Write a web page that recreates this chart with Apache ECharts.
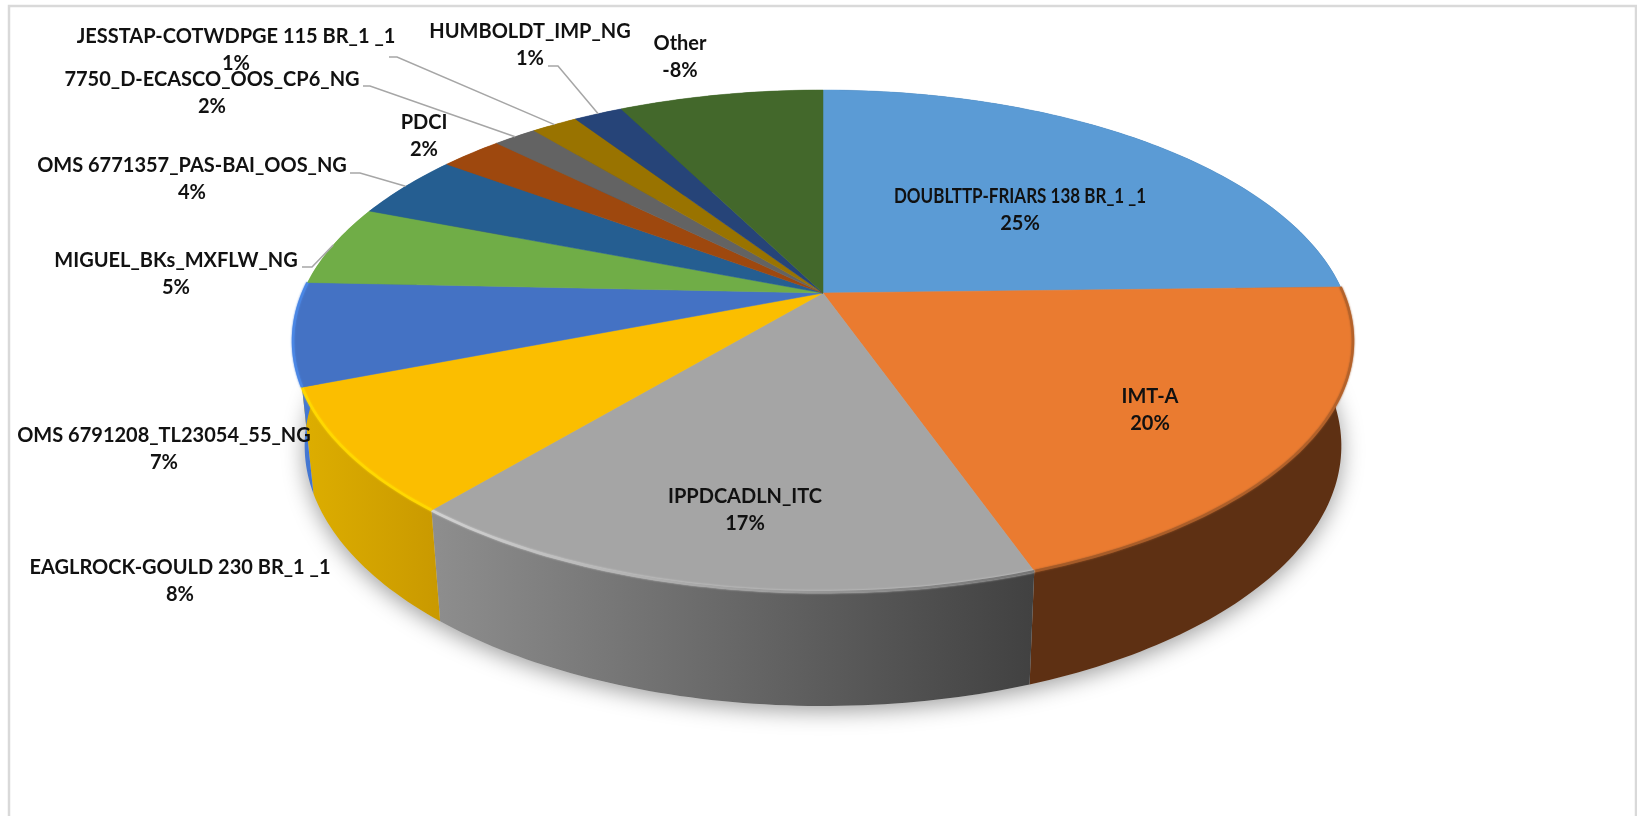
<!DOCTYPE html>
<html lang="en">
<head>
  <meta charset="UTF-8">
  <title>chart</title>
  <style>html,body{margin:0;padding:0;background:#fff}</style>
</head>
<body>
<div id="main" style="width:1637px;height:816px;"></div>
<script src="https://cdn.jsdelivr.net/npm/echarts@6/dist/echarts.min.js"></script>
<script>
// slice sizes, labels as printed on it
var categories = ['DOUBLTTP-FRIARS 138 BR_1 _1', 'IMT-A', 'IPPDCADLN_ITC', 'EAGLROCK-GOULD 230 BR_1 _1',
  'OMS 6791208_TL23054_55_NG', 'MIGUEL_BKs_MXFLW_NG', 'OMS 6771357_PAS-BAI_OOS_NG', 'PDCI',
  '7750_D-ECASCO_OOS_CP6_NG', 'JESSTAP-COTWDPGE 115 BR_1 _1', 'HUMBOLDT_IMP_NG', 'Other'];
var sliceValues = [24.6, 20.0, 16.5, 8.0, 6.6, 5.2, 4.2, 2.3, 1.6, 1.7, 1.8, 7.5];
var percentLabels = ['25%', '20%', '17%', '8%', '7%', '5%', '4%', '2%', '2%', '1%', '1%', '-8%'];

var topColors = ['#5B9BD5', '#EA7B30', '#A5A5A5', '#FBBE00', '#4472C4', '#70AD47', '#255E91', '#9E480E', '#636363', '#997300', '#264478', '#43682B'];
var wallColors = [['#2f5f8a', '#2f5f8a'], ['#5E3013', '#5E3013'], ['#8E8E8E', '#414141'], ['#DDAE00', '#C99900'], ['#4A80DD', '#3F6FC8']];
var rimColors = [null, ['#a35a28', '#b5622a'], ['#D2D2D2', '#757575'], ['#FFD800', '#FFD800'], ['#4A86E4', '#4A86E4']];

// label box centres, first line; second line sits 27px lower
var labelX = [1020, 1150, 745, 180, 164, 176, 192, 424, 212, 236, 530, 680];
var labelY = [197, 397, 497, 568, 436, 261, 166, 123, 80, 37, 32, 44];
// elbow of leader line per slice (start x, knee x, y)
var leaders = {5: [302, 312, 267], 6: [350, 360, 173], 8: [363, 370, 86], 9: [389, 397, 57], 10: [548, 558, 66]};

// ellipse of the tilted top face, apex is where the slices meet
var cx = 823, cy = 341, rx = 530, ry = 251, apexY = 293;
var tilt = (apexY - cy) / ry;
var total = sliceValues.reduce(function (a, b) { return a + b; }, 0);

// share of the pie (0..1, clockwise from 12 o'clock) -> point on unit ellipse
function rim(share) {
  var a = share * 2 * Math.PI;
  var X = Math.sin(a), Y = -Math.cos(a);
  var d = 1 + tilt * Y;
  return [X * Math.sqrt(1 - tilt * tilt) / d, (Y + tilt) / d];
}
function topPoint(share) {
  var p = rim(share);
  return [cx + p[0] * rx, cy + p[1] * ry];
}
function bottomPoint(share) {
  var p = rim(share);
  return [cx + p[0] * rx * 0.978, cy + 105 + p[1] * ry + p[1] * 9];
}
function startOf(i) {
  var s = 0;
  for (var k = 0; k < i; k++) s += sliceValues[k];
  return s / total;
}
function arc(i, fn) {
  var a = startOf(i), b = a + sliceValues[i] / total;
  var n = Math.max(4, Math.ceil((b - a) * 360));
  var pts = [];
  for (var k = 0; k <= n; k++) pts.push(fn(a + (b - a) * k / n));
  return pts;
}
function hGrad(c) {
  return new echarts.graphic.LinearGradient(0, 0, 1, 0, [{offset: 0, color: c[0]}, {offset: 1, color: c[1]}]);
}

var rows = categories.map(function (c, i) { return [i, sliceValues[i]]; });
var myChart = echarts.init(document.getElementById('main'));

myChart.setOption({
  animation: false,
  backgroundColor: '#fff',
  graphic: [{
    type: 'rect', z: -1,
    shape: {x: 9, y: 6, width: 1627, height: 840},
    style: {fill: 'none', stroke: '#D9D9D9', lineWidth: 2.5}
  }],
  series: [
    {
      // soft shadow under the pie
      type: 'custom', coordinateSystem: 'none', silent: true, z: 1,
      data: [[0]],
      renderItem: function () {
        var pts = [];
        for (var k = 0; k < 360; k++) pts.push(bottomPoint(k / 360));
        return {
          type: 'polygon', shape: {points: pts},
          style: {fill: '#cfcfcf', shadowBlur: 22, shadowColor: 'rgba(0,0,0,0.38)', shadowOffsetX: 0, shadowOffsetY: 5}
        };
      }
    },
    {
      // side walls
      type: 'custom', coordinateSystem: 'none', silent: true, z: 2,
      data: rows,
      renderItem: function (params, api) {
        var i = api.value(0);
        var c = wallColors[i] || [topColors[i], topColors[i]];
        var pts = arc(i, topPoint).concat(arc(i, bottomPoint).reverse());
        return {type: 'polygon', shape: {points: pts}, style: {fill: hGrad(c)}};
      }
    },
    {
      // top faces
      type: 'custom', coordinateSystem: 'none', silent: true, z: 3,
      data: rows,
      renderItem: function (params, api) {
        var i = api.value(0);
        var edge = arc(i, topPoint);
        var kids = [{
          type: 'polygon',
          shape: {points: [[cx, apexY]].concat(edge)},
          style: {fill: topColors[i], stroke: topColors[i], lineWidth: 0.5}
        }];
        if (rimColors[i]) {
          kids.push({
            type: 'polyline',
            shape: {points: edge},
            style: {fill: 'none', stroke: hGrad(rimColors[i]), lineWidth: 2.5, shadowBlur: 2, shadowColor: rimColors[i][0]}
          });
        }
        return {type: 'group', children: kids};
      }
    },
    {
      // labels and leader lines
      type: 'custom', coordinateSystem: 'none', silent: true, z: 4,
      data: rows,
      renderItem: function (params, api) {
        var i = api.value(0);
        var font = '700 20px Lato, "Open Sans", sans-serif';
        var kids = [
          // the first label is set tighter than the rest in the original
          {type: 'text', x: labelX[i], y: labelY[i], scaleX: i === 0 ? 0.85 : 1,
            style: {text: categories[i], x: 0, y: 0, align: 'center', verticalAlign: 'middle', font: font, fill: '#111'}},
          {type: 'text', style: {text: percentLabels[i], x: labelX[i], y: labelY[i] + 27, align: 'center', verticalAlign: 'middle', font: font, fill: '#111'}}
        ];
        if (leaders[i]) {
          var end = topPoint(startOf(i) + sliceValues[i] / total / 2);
          var l = leaders[i];
          kids.unshift({
            type: 'polyline',
            shape: {points: [[l[0], l[2]], [l[1], l[2]], end]},
            style: {fill: 'none', stroke: '#A6A6A6', lineWidth: 1.5}
          });
        }
        return {type: 'group', children: kids};
      }
    }
  ]
});
</script>
</body>
</html>
